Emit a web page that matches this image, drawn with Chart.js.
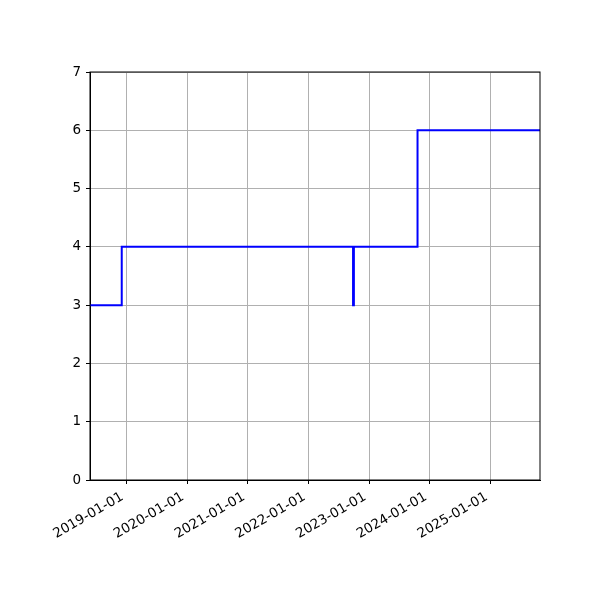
<!DOCTYPE html>
<html>
<head>
  <title>Step chart</title>
  <script src="https://cdn.jsdelivr.net/npm/chart.js"></script>
  <style>
    body { margin: 0; background: #fff; }
    #wrap { width: 600px; height: 600px; }
  </style>
</head>
<body>
  <div id="wrap"><canvas id="stepChart" width="600" height="600"></canvas></div>

  <script>
    // data
    const dates = ['2018-05-27', '2018-12-04', '2022-09-26', '2022-10-01', '2023-10-19', '2025-10-25'];
    const values = [3, 4, 3, 4, 6, 6];
    const tickLabels = ['2019-01-01', '2020-01-01', '2021-01-01', '2022-01-01', '2023-01-01', '2024-01-01', '2025-01-01'];
    const xStart = '2018-05-27';
    const xEnd = '2025-10-25';

    const points = dates.map((d, i) => ({ x: Date.parse(d), y: values[i] }));
    const tickValues = tickLabels.map(d => Date.parse(d));

    // plain black frame round the plot area
    const frame = {
      id: 'frame',
      afterDraw(chart) {
        const a = chart.chartArea, c = chart.ctx;
        c.save();
        c.strokeStyle = '#000';
        c.lineWidth = 1;
        c.strokeRect(a.left, a.top, a.right - a.left, a.bottom - a.top);
        c.restore();
      }
    };

    Chart.defaults.color = '#000';
    Chart.defaults.font.family = 'DejaVu Sans';
    Chart.defaults.font.size = 13;

    new Chart(document.getElementById('stepChart'), {
      type: 'line',
      data: {
        datasets: [{
          data: points,
          stepped: 'before',   // horizontal at the old value, then up/down at the new point
          borderColor: '#0000ff',
          borderWidth: 2,
          pointRadius: 0,
          fill: false
        }]
      },
      options: {
        responsive: false,
        animation: false,
        layout: { padding: { top: 72, right: 60, left: 0, bottom: 0 } },
        plugins: { legend: { display: false }, tooltip: { enabled: false } },
        scales: {
          x: {
            type: 'linear',
            min: Date.parse(xStart),
            max: Date.parse(xEnd),
            afterBuildTicks: s => { s.ticks = tickValues.map(v => ({ value: v })); },
            afterFit: s => { s.height = 120; },
            ticks: {
              autoSkip: false,
              minRotation: 30,
              maxRotation: 30,
              padding: 5,
              labelOffset: -4,
              font: { size: 13.5 },
              callback: v => new Date(v).toISOString().slice(0, 10)
            },
            grid: { color: '#b0b0b0', tickColor: '#000', tickLength: 4 },
            border: { color: '#000' }
          },
          y: {
            min: 0,
            max: 7,
            afterFit: s => { s.width = 90; },
            ticks: { stepSize: 1, padding: 5, font: { size: 13.5 } },
            grid: { color: '#b0b0b0', tickColor: '#000', tickLength: 4 },
            border: { color: '#000' }
          }
        }
      },
      plugins: [frame]
    });
  </script>
</body>
</html>
